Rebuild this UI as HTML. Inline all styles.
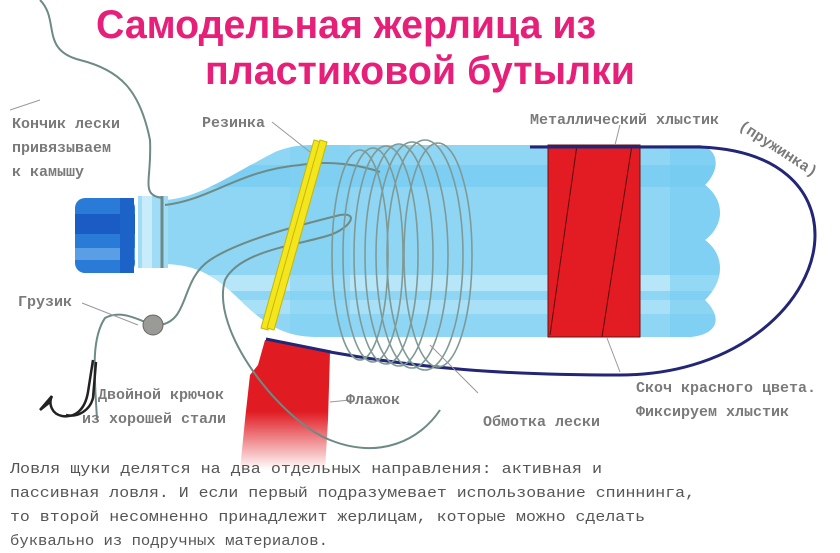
<!DOCTYPE html>
<html><head><meta charset="utf-8"><style>
html,body{margin:0;padding:0;background:#fff;}
svg{display:block}
.t{font-family:"Liberation Sans",sans-serif;font-weight:bold;fill:#e61f78;font-size:40px}
.l{font-family:"Liberation Mono","DejaVu Sans Mono",monospace;font-weight:bold;fill:#7a7a7a;font-size:15px}
.p{font-family:"Liberation Mono","DejaVu Sans Mono",monospace;fill:#555;font-size:15px}
</style></head><body>
<svg width="840" height="553" viewBox="0 0 840 553" xmlns="http://www.w3.org/2000/svg">
<defs>
<linearGradient id="flag" x1="0" y1="0" x2="0" y2="1">
<stop offset="0" stop-color="#e01b22"/><stop offset="0.55" stop-color="#e01b22"/><stop offset="1" stop-color="#fff"/>
</linearGradient>
<clipPath id="bc"><path id="bp" d="M165,200 C200,198 230,175 275,152 C290,146 300,145 320,145 L700,145 C720,150 720,170 705,185 C725,200 725,225 705,240 C725,255 725,280 705,300 C725,320 715,335 690,337 L320,337 C290,337 270,330 240,300 C210,270 190,265 165,264 Z"/></clipPath>
</defs>
<text class="t" x="96" y="38" textLength="500" lengthAdjust="spacingAndGlyphs">Самодельная жерлица из</text>
<text class="t" x="205" y="84" textLength="430" lengthAdjust="spacingAndGlyphs">пластиковой бутылки</text>

<!-- bottle body -->
<g clip-path="url(#bc)">
<rect x="160" y="140" width="570" height="200" fill="#8fd6f4"/>
<rect x="160" y="165" width="570" height="22" fill="#6fc9f0" opacity="0.6"/>
<rect x="160" y="275" width="570" height="16" fill="#c6ecfa" opacity="0.7"/>
<rect x="160" y="300" width="570" height="14" fill="#b8e6f8" opacity="0.6"/>
<rect x="670" y="140" width="60" height="200" fill="#6fc9f0" opacity="0.5"/>
<rect x="290" y="140" width="60" height="200" fill="#7fd0f2" opacity="0.5"/>
</g>
<!-- neck -->
<rect x="138" y="196" width="30" height="72" fill="#9fdcf5"/>
<rect x="142" y="196" width="10" height="72" fill="#c8ecfa"/>
<!-- cap -->
<rect x="75" y="198" width="60" height="75" rx="10" fill="#2a7ad8"/>
<rect x="75" y="214" width="60" height="20" fill="#1a5cc4"/>
<rect x="75" y="248" width="60" height="12" fill="#5a9ee6"/>
<rect x="120" y="198" width="14" height="75" fill="#1d62c6"/>

<!-- red tape -->
<rect x="548" y="145" width="92" height="192" fill="#e31b23" stroke="#6a1010" stroke-width="1"/>
<line x1="577" y1="145" x2="550" y2="335" stroke="#5a0d0d" stroke-width="1"/>
<line x1="632" y1="145" x2="602" y2="337" stroke="#5a0d0d" stroke-width="1"/>

<!-- whip -->
<path d="M530,147 L700,147 C780,150 815,190 815,235 C815,300 740,375 620,375 C500,375 420,368 330,352" fill="none" stroke="#232576" stroke-width="3"/>

<!-- flag -->
<path d="M265,340 L330,352 L328,420 L325,470 L240,470 L245,420 L250,375 L258,365 Z" fill="url(#flag)"/>
<line x1="266" y1="339" x2="331" y2="352" stroke="#232576" stroke-width="3"/>

<!-- fishing line -->
<g fill="none" stroke="#6e8a86" stroke-width="2">
<path d="M40,0 C60,20 40,50 80,60 C120,70 140,90 150,140 C152,180 140,195 162,198"/>
<path d="M165,205 C210,200 240,170 300,165 C330,160 360,165 380,172"/>
<path d="M160,325 C190,320 180,280 210,260 C240,240 300,225 340,215 C360,212 350,228 330,235 C300,245 240,250 225,280 C210,330 280,420 330,440 C380,460 420,440 440,410"/>
<path d="M97,420 C95,380 90,340 105,318 C120,310 135,318 150,324"/>
</g>
<!-- coils -->
<g fill="none" stroke="#7f9a96" stroke-width="1.6">
<ellipse cx="360" cy="255" rx="28" ry="105"/>
<ellipse cx="373" cy="255" rx="30" ry="107"/>
<ellipse cx="386" cy="255" rx="32" ry="109"/>
<ellipse cx="399" cy="255" rx="34" ry="111"/>
<ellipse cx="412" cy="255" rx="36" ry="113"/>
<ellipse cx="425" cy="255" rx="38" ry="115"/>
<ellipse cx="438" cy="255" rx="34" ry="112"/>
</g>
<!-- neck knot -->
<line x1="162" y1="196" x2="162" y2="268" stroke="#6e8a86" stroke-width="3"/>
<!-- rubber band -->
<g stroke="#c7b800" stroke-width="1" fill="#f3e51e">
<path d="M314,140 L321,142 L268,330 L261,328 Z"/>
<path d="M320,140 L327,142 L274,330 L267,328 Z"/>
</g>
<!-- sinker -->
<circle cx="153" cy="325" r="10" fill="#9a9a96" stroke="#666" stroke-width="1"/>
<!-- hook -->
<g fill="none" stroke="#222" stroke-width="2.5">
<path d="M93,360 L88,392 C85,410 75,418 62,416 C52,414 48,404 52,396"/>
<path d="M96,362 L93,398 C90,410 78,418 66,415"/>
<path d="M52,396 L40,410 M40,410 L50,402"/>
</g>
<!-- leader lines -->
<g stroke="#999" stroke-width="1">
<line x1="40" y1="100" x2="10" y2="110"/>
<line x1="272" y1="122" x2="310" y2="152"/>
<line x1="82" y1="303" x2="138" y2="325"/>
<line x1="330" y1="402" x2="350" y2="400"/>
<line x1="478" y1="393" x2="430" y2="345"/>
<line x1="620" y1="372" x2="607" y2="338"/>
<line x1="620" y1="125" x2="615" y2="145"/>
</g>
<!-- labels -->
<text class="l" x="12" y="128">Кончик лески</text>
<text class="l" x="12" y="152">привязываем</text>
<text class="l" x="12" y="176">к камышу</text>
<text class="l" x="202" y="127">Резинка</text>
<text class="l" x="18" y="306">Грузик</text>
<text class="l" x="98" y="399">Двойной крючок</text>
<text class="l" x="82" y="423">из хорошей стали</text>
<text class="l" x="346" y="404">Флажок</text>
<text class="l" x="483" y="426">Обмотка лески</text>
<text class="l" x="636" y="392">Скоч красного цвета.</text>
<text class="l" x="636" y="416">Фиксируем хлыстик</text>
<text class="l" x="530" y="124">Металлический хлыстик</text>
<text class="l" x="738" y="128" transform="rotate(33 738 128)">(пружинка)</text>
<!-- paragraph -->
<text class="p" x="10" y="473" textLength="592" lengthAdjust="spacingAndGlyphs">Ловля щуки делятся на два отдельных направления: активная и</text>
<text class="p" x="10" y="497" textLength="685" lengthAdjust="spacingAndGlyphs">пассивная ловля. И если первый подразумевает использование спиннинга,</text>
<text class="p" x="10" y="521" textLength="635" lengthAdjust="spacingAndGlyphs">то второй несомненно принадлежит жерлицам, которые можно сделать</text>
<text class="p" x="10" y="545" textLength="318" lengthAdjust="spacingAndGlyphs">буквально из подручных материалов.</text>
</svg>
</body></html>
